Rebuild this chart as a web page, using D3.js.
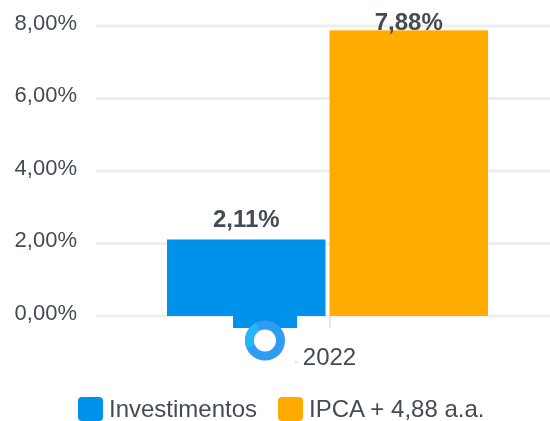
<!DOCTYPE html>
<html lang="en">

<head>
    <meta charset="UTF-8">
    <title>Investimentos x IPCA</title>
    <script src="https://d3js.org/d3.v7.min.js"></script>
    <style>
        html, body {
            margin: 0;
            background: #fff;
        }

        svg {
            display: block;
            font-family: "Liberation Sans", Arial, sans-serif;
            filter: blur(0.4px);
        }

        .grid line {
            stroke: #eeeeee;
            stroke-width: 3px;
        }

        .y-axis text {
            fill: #444b54;
            font-size: 22px;
        }

        .x-axis text {
            fill: #444b54;
            font-size: 24px;
        }

        .bar-label {
            fill: #444b54;
            font-size: 24px;
            font-weight: bold;
            text-anchor: middle;
        }

        .legend text {
            fill: #444b54;
            font-size: 24px;
        }
    </style>
</head>

<body>
    <svg id="chart"></svg>

    <script>
        const width = 550;
        const height = 421;

        const categories = ['2022'];
        const seriesNames = ['Investimentos', 'IPCA + 4,88 a.a.'];
        const seriesValues = [2.11, 7.88];
        const seriesLabels = ['2,11%', '7,88%'];
        const seriesColors = ['#0091ea', '#ffab00'];
        const yTicks = [0, 2, 4, 6, 8];
        // the short block under the axis, drawn behind the loading ring
        const stubValue = -0.33;

        const svg = d3.select('#chart')
            .attr('width', width)
            .attr('height', height);

        const y = d3.scaleLinear().domain([0, 8]).range([316, 26]);
        const x = d3.scaleBand().domain(categories).range([105, 550]);
        const xSeries = d3.scaleBand().domain(seriesNames).range([0, x.bandwidth()]).paddingInner(0.0246).paddingOuter(0.3815);

        // grid lines
        svg.append('g')
            .attr('class', 'grid')
            .selectAll('line')
            .data(yTicks)
            .enter().append('line')
            .attr('x1', 96)
            .attr('x2', width)
            .attr('y1', d => y(d))
            .attr('y2', d => y(d));

        // y axis labels
        const yAxis = svg.append('g')
            .attr('class', 'y-axis')
            .attr('transform', 'translate(77,-4)')
            .call(d3.axisLeft(y).tickValues(yTicks).tickSize(0).tickPadding(0)
                .tickFormat(d => d3.format('.2f')(d).replace('.', ',') + '%'));
        yAxis.select('.domain').remove();
        yAxis.selectAll('text').attr('font-size', null);

        // tick mark under the axis
        const catCenter = x(categories[0]) + x.bandwidth() / 2;
        svg.append('line')
            .attr('x1', catCenter + 2.5)
            .attr('x2', catCenter + 2.5)
            .attr('y1', y(0))
            .attr('y2', y(stubValue))
            .attr('stroke', '#e6e6e6')
            .attr('stroke-width', 2);

        // bars
        svg.selectAll('.bar')
            .data(seriesValues)
            .enter().append('rect')
            .attr('class', 'bar')
            .attr('x', (d, i) => x(categories[0]) + xSeries(seriesNames[i]))
            .attr('y', d => y(d))
            .attr('width', xSeries.bandwidth())
            .attr('height', d => y(0) - y(d))
            .attr('fill', (d, i) => seriesColors[i]);

        // bar labels, the tall one gets pushed down onto the bar top
        svg.selectAll('.bar-label')
            .data(seriesValues)
            .enter().append('text')
            .attr('class', 'bar-label')
            .attr('x', (d, i) => x(categories[0]) + xSeries(seriesNames[i]) + xSeries.bandwidth() / 2)
            .attr('y', d => Math.max(y(d) - 12.5, 30))
            .text((d, i) => seriesLabels[i]);

        // stub + loading ring
        const ringX = catCenter - 62.5;
        svg.append('rect')
            .attr('x', ringX - 32)
            .attr('y', y(0))
            .attr('width', 64)
            .attr('height', y(stubValue) - y(0))
            .attr('fill', seriesColors[0]);

        const ring = svg.append('g').attr('transform', `translate(${ringX},340.5)`);
        ring.append('circle').attr('r', 20).attr('fill', '#2f9bf2');
        ring.append('path')
            .attr('d', d3.arc()({ innerRadius: 11, outerRadius: 20, startAngle: -2.0, endAngle: -0.5 }))
            .attr('fill', '#29b6f6');
        ring.append('circle').attr('r', 11).attr('fill', '#fff');

        // x axis label
        const xAxis = svg.append('g')
            .attr('class', 'x-axis')
            .attr('transform', 'translate(2,350)')
            .call(d3.axisBottom(x).tickSize(0).tickPadding(0));
        xAxis.select('.domain').remove();
        xAxis.selectAll('text').attr('font-size', null).attr('dy', 0).attr('y', 15);
        svg.append('circle').attr('cx', 296).attr('cy', 362).attr('r', 0.8).attr('fill', '#d9a066');

        // legend
        const legendX = [78, 278];
        const legend = svg.selectAll('.legend')
            .data(seriesNames)
            .enter().append('g')
            .attr('class', 'legend')
            .attr('transform', (d, i) => `translate(${legendX[i]},397)`);
        legend.append('rect')
            .attr('width', 25)
            .attr('height', 24)
            .attr('rx', 4)
            .attr('fill', (d, i) => seriesColors[i]);
        legend.append('text')
            .attr('x', 31)
            .attr('y', 20)
            .text(d => d);
    </script>
</body>

</html>
